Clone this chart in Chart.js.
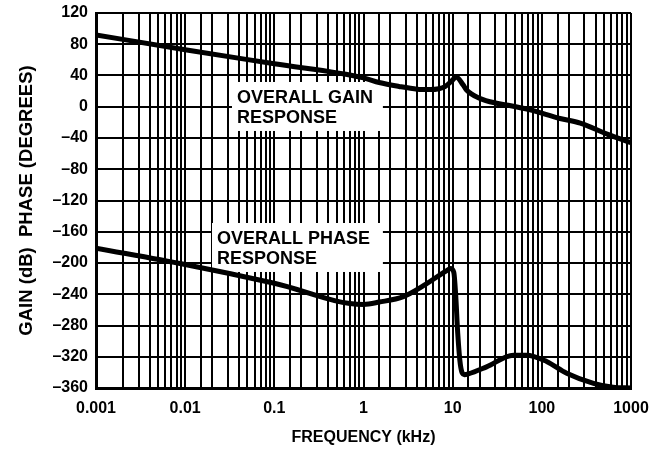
<!DOCTYPE html>
<html>
<head>
<meta charset="utf-8">
<script src="https://cdn.jsdelivr.net/npm/chart.js@4/dist/chart.umd.min.js"></script>
<style>
  body { margin: 0; background: #fff; }
  #wrap { width: 665px; height: 449px; }
</style>
</head>
<body>
<div id="wrap"><canvas id="myChart" width="665" height="449"></canvas></div>
<script>
// frequency in kHz
const gainFreq = [0.001, 0.01, 0.1, 1, 1.5, 2.5, 4, 5.6, 7, 8.2, 9.75, 10.9, 13.1, 14.3, 20, 31, 42, 74, 160, 270, 540, 1000];
const gainDb   = [92, 73, 55, 37, 31, 26, 22.5, 22, 23, 25.7, 33, 38, 28, 21.5, 11, 4.5, 2, -4, -15, -21, -35, -46];

const phaseFreq = [0.001, 0.01, 0.1, 1, 1.5, 2.8, 4.7, 8.5, 9.5, 10.3, 10.8, 11.4, 12.2, 13.5, 15, 24, 48, 67, 113, 190, 380, 630, 1000];
const phaseDeg  = [-181, -202, -226, -253, -250, -243, -229, -210, -207, -212, -240, -290, -330, -343, -342, -333, -318, -318, -326, -341, -354, -359, -360];

const xTickValues = [0.001, 0.01, 0.1, 1, 10, 100, 1000];
const xTickLabels = ['0.001', '0.01', '0.1', '1', '10', '100', '1000'];

// text labels on the plot, box corners given in data units
const plotLabels = [
  { lines: ['OVERALL GAIN', 'RESPONSE'], x0: 0.0335, x1: 1.65, y0: 31.7, y1: -31 },
  { lines: ['OVERALL PHASE', 'RESPONSE'], x0: 0.02, x1: 1.65, y0: -148.8, y1: -211.5 }
];

function pairs(xs, ys) {
  return xs.map((x, i) => ({ x: x, y: ys[i] }));
}

const labelBoxes = {
  id: 'labelBoxes',
  beforeDatasetsDraw(chart) {
    const c = chart.ctx;
    const xs = chart.scales.x, ys = chart.scales.y;
    c.save();
    plotLabels.forEach(l => {
      const left = xs.getPixelForValue(l.x0), right = xs.getPixelForValue(l.x1);
      const top = ys.getPixelForValue(l.y0), bottom = ys.getPixelForValue(l.y1);
      c.fillStyle = '#fff';
      c.fillRect(left, top, right - left, bottom - top);
      c.fillStyle = '#000';
      c.font = 'bold 18px "Liberation Sans", Arial, sans-serif';
      c.textBaseline = 'alphabetic';
      c.textAlign = 'left';
      const h = bottom - top;
      c.fillText(l.lines[0], left + 5, top + h * 0.43);
      c.fillText(l.lines[1], left + 5, top + h * 0.84);
    });
    c.restore();
  }
};

const lineStyle = {
  borderColor: '#000',
  backgroundColor: '#000',
  borderWidth: 5,
  pointRadius: 0,
  fill: false,
  cubicInterpolationMode: 'monotone'
};

const fontFam = '"Liberation Sans", Arial, sans-serif';
const ctx = document.getElementById('myChart').getContext('2d');

const config = {
  type: 'line',
  data: {
    datasets: [
      Object.assign({ label: 'Gain', data: pairs(gainFreq, gainDb) }, lineStyle),
      Object.assign({ label: 'Phase', data: pairs(phaseFreq, phaseDeg) }, lineStyle)
    ]
  },
  options: {
    responsive: false,
    animation: false,
    layout: { padding: { top: 13, right: 34, left: 0, bottom: 0 } },
    plugins: { legend: { display: false }, tooltip: { enabled: false } },
    scales: {
      x: {
        type: 'logarithmic',
        min: 0.001,
        max: 1000,
        afterFit: s => { s.height = 61; },
        grid: { color: '#000', lineWidth: 2, drawTicks: false },
        border: { color: '#000', width: 3 },
        ticks: {
          autoSkip: false,
          maxRotation: 0,
          padding: 11,
          color: '#000',
          font: { family: fontFam, size: 16, weight: 'bold' },
          callback: function(v) {
            const i = xTickValues.findIndex(t => Math.abs(Math.log10(v) - Math.log10(t)) < 1e-6);
            return i >= 0 ? xTickLabels[i] : '';
          }
        },
        title: {
          display: true,
          text: 'FREQUENCY (kHz)',
          color: '#000',
          padding: { top: 0, bottom: 2 },
          font: { family: fontFam, size: 16, weight: 'bold' }
        }
      },
      y: {
        min: -360,
        max: 120,
        afterFit: s => { s.width = 96; s.paddingTop = 0; s.paddingBottom = 0; },
        grid: { color: '#000', lineWidth: 2, drawTicks: false },
        border: { color: '#000', width: 3 },
        ticks: {
          stepSize: 40,
          padding: 8,
          color: '#000',
          font: { family: fontFam, size: 16, weight: 'bold' },
          callback: v => (v < 0 ? '\u2013' + Math.abs(v) : String(v))
        },
        title: {
          display: true,
          text: 'GAIN (dB)  PHASE (DEGREES)',
          color: '#000',
          padding: { top: 16, bottom: 0 },
          font: { family: fontFam, size: 18.5, weight: 'bold' }
        }
      }
    }
  },
  plugins: [labelBoxes]
};

let chart = new Chart(ctx, config);
</script>
</body>
</html>
